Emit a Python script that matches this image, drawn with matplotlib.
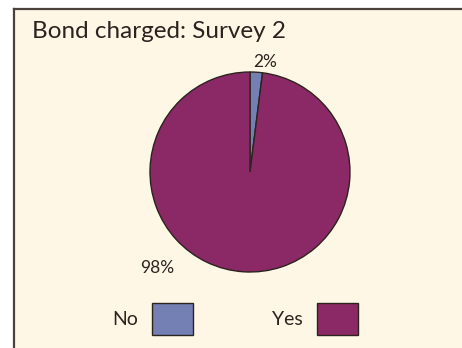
import matplotlib
matplotlib.use('Agg')
import matplotlib.pyplot as plt
from matplotlib.patches import Rectangle

# data
categories = ['No', 'Yes']
shares = [2, 98]
pct_labels = ['2%', '98%']
colors = ['#7480b4', '#8b2866']

plt.rcParams['font.family'] = ['Lato', 'DejaVu Sans']
edge = '#2b241e'
cream = '#fff7e6'

W, H = 462, 348
fig = plt.figure(figsize=(W / 100, H / 100), dpi=100, facecolor='white')

# cream panel with left and top border
fig.patches.append(Rectangle((14 / W, 0), 1, 1 - 9 / H, transform=fig.transFigure,
                             facecolor=cream, edgecolor='none', zorder=-5))
fig.add_artist(plt.Line2D([14 / W, 14 / W], [0, 1 - 9 / H], color='#4a433b', lw=1.6,
                          transform=fig.transFigure, zorder=-4))
fig.add_artist(plt.Line2D([14 / W, 1], [1 - 9 / H, 1 - 9 / H], color='#4a433b', lw=1.6,
                          transform=fig.transFigure, zorder=-4))

fig.text(32 / W, 1 - 31 / H, 'Bond charged: Survey 2', fontsize=17.5, color='#2a241f',
         va='center', ha='left')

# pie: centre (250,172), radius 100 px
ax = fig.add_axes([150 / W, 1 - 272 / H, 200 / W, 200 / H])
ax.set_facecolor('none')
wedges, _ = ax.pie(shares, colors=colors, startangle=90, counterclock=False,
                   wedgeprops=dict(edgecolor=edge, linewidth=1.0))
ax.set_xlim(-1, 1)
ax.set_ylim(-1, 1)
ax.set_aspect('equal')
ax.axis('off')

ax.text(0.15, 1.1, pct_labels[0], ha='center', va='center', fontsize=12.5, color='#2a241f',
        clip_on=False)
ax.text(-0.93, -0.96, pct_labels[1], ha='center', va='center', fontsize=12.5, color='#2a241f',
        clip_on=False)

# legend: label then swatch
handles = [Rectangle((0, 0), 1, 1, facecolor=c, edgecolor=edge, linewidth=1.0) for c in colors]
fig.legend(handles, categories, loc='center', bbox_to_anchor=(235 / W, 1 - 319 / H),
           ncol=2, frameon=False, markerfirst=False, handlelength=2.1, handleheight=2.2,
           handletextpad=0.7, columnspacing=4.1, fontsize=14, labelcolor='#2a241f')

fig.savefig('out.png', dpi=100, facecolor='white')
